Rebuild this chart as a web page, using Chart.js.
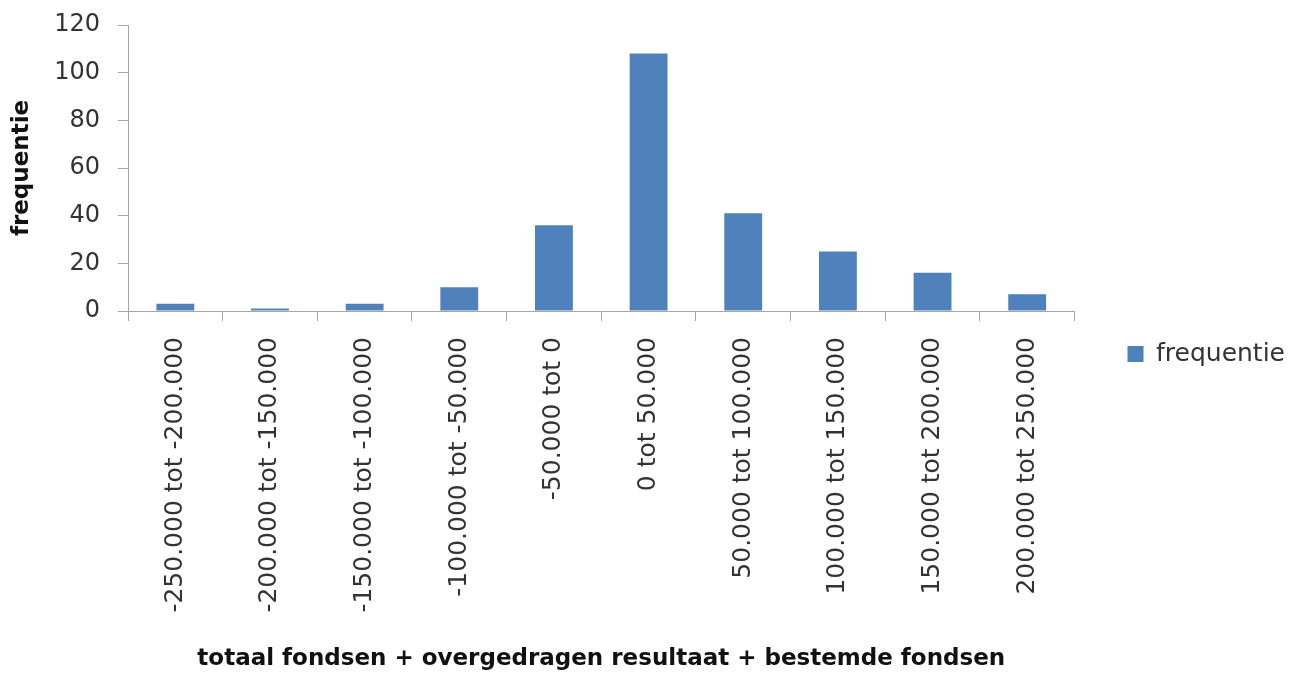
<!DOCTYPE html>
<html>
<head>
<meta charset="utf-8">
<script src="https://cdn.jsdelivr.net/npm/chart.js@4/dist/chart.umd.min.js"></script>
<style>
  body { margin: 0; background: #fff; }
  canvas { display: block; }
</style>
</head>
<body>
<canvas id="myChart" width="1290" height="673"></canvas>
<script>
// klassen (x-as) en frequenties
var categories = [
    "-250.000 tot -200.000",
    "-200.000 tot -150.000",
    "-150.000 tot -100.000",
    "-100.000 tot -50.000",
    "-50.000 tot 0",
    "0 tot 50.000",
    "50.000 tot 100.000",
    "100.000 tot 150.000",
    "150.000 tot 200.000",
    "200.000 tot 250.000"
];
var frequentie = [3, 1, 3, 10, 36, 108, 41, 25, 16, 7];
var yTicks = [0, 20, 40, 60, 80, 100, 120];

var axisGray = "#a6a6a6";
var textColor = "#333333";

var ctx = document.getElementById('myChart');
var chart = new Chart(ctx, {
    type: 'bar',
    data: {
        labels: categories,
        datasets: [{
            label: "frequentie",
            backgroundColor: "#4f81bd",
            borderWidth: 0,
            barPercentage: 0.4,
            categoryPercentage: 1.0,
            data: frequentie
        }]
    },
    options: {
        responsive: false,
        animation: false,
        layout: {
            padding: { top: 25, right: -5, bottom: -10, left: 0 }
        },
        plugins: {
            tooltip: { enabled: false },
            legend: {
                position: 'right',
                labels: {
                    boxWidth: 16,
                    boxHeight: 16,
                    padding: 53,
                    color: textColor,
                    font: { family: "DejaVu Sans", size: 25 }
                }
            }
        },
        scales: {
            x: {
                grid: {
                    display: true,
                    drawOnChartArea: false,
                    drawTicks: true,
                    tickLength: 10,
                    color: axisGray
                },
                border: { color: axisGray, width: 1 },
                ticks: {
                    minRotation: 90,
                    maxRotation: 90,
                    padding: 16,
                    autoSkip: false,
                    color: textColor,
                    font: { family: "DejaVu Sans", size: 25 }
                },
                title: {
                    display: true,
                    text: "totaal fondsen + overgedragen resultaat + bestemde fondsen",
                    color: "#111",
                    padding: { top: 0, bottom: 10 },
                    font: { family: "DejaVu Sans", size: 23, weight: 'bold' }
                },
                afterFit: function(scale) { scale.height = 372; }
            },
            y: {
                min: 0,
                max: 120,
                grid: {
                    display: true,
                    drawOnChartArea: false,
                    drawTicks: true,
                    tickLength: 10,
                    color: axisGray
                },
                border: { color: axisGray, width: 1 },
                afterBuildTicks: function(scale) {
                    scale.ticks = yTicks.map(function(v) { return { value: v }; });
                },
                ticks: {
                    padding: 18,
                    color: textColor,
                    font: { family: "DejaVu Sans", size: 24 }
                },
                title: {
                    display: true,
                    text: "frequentie",
                    color: "#111",
                    padding: { top: 8, bottom: 0 },
                    font: { family: "DejaVu Sans", size: 23, weight: 'bold' }
                },
                afterFit: function(scale) {
                    scale.width = 128;
                    scale.paddingTop = 0;
                    scale.paddingBottom = 0;
                }
            }
        }
    }
});
</script>
</body>
</html>
